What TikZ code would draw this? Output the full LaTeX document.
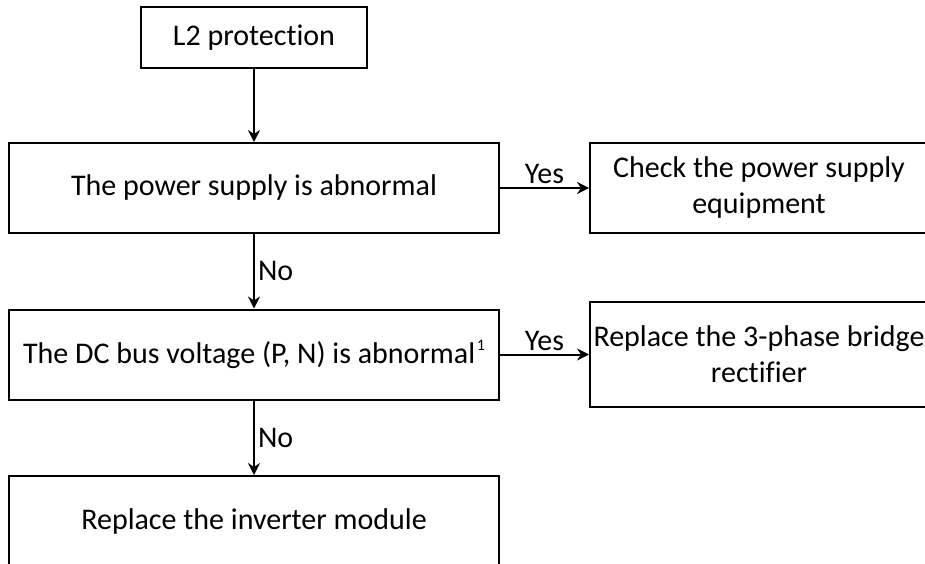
\documentclass[tikz,border=0pt]{standalone}
\usepackage{fontspec}
\setmainfont{Carlito}[Ligatures=NoCommon]
\usepackage{tikz}
\usetikzlibrary{arrows.meta,positioning,calc}

\begin{document}
\begin{tikzpicture}[x=1pt, y=-1pt,
        box/.style={rectangle, draw=black, line width=2pt,
                    minimum width=490pt, minimum height=90pt,
                    align=center, fill=white,
                    font=\fontsize{30}{36}\selectfont},
        sidebox/.style={box, minimum width=338pt},
        arrow/.style={-{Stealth[length=12pt, width=12pt, inset=4pt]},
                      line width=2pt, draw=black},
        lbl/.style={font=\fontsize{30}{36}\selectfont, inner sep=3pt}]

        \useasboundingbox (0,0) rectangle (925,564);

        % start node
        \node[box, minimum width=226pt, minimum height=61pt] (l2) at (254, 37.5)
            {L2 protection};

        % first check
        \node[box] (pwr) at (254, 188) {The power supply is abnormal};
        \node[sidebox] (chk) at (759, 188)
            {Check the power supply\\equipment};

        % second check
        \node[box] (dc) at (254, 354.5)
            {The DC bus voltage (P, N) is
             abnormal\kern1.5pt\raisebox{13pt}{\fontsize{16}{16}\selectfont 1}};
        \node[sidebox, minimum height=105pt] (rect) at (759, 354.5)
            {Replace the 3-phase bridge\\rectifier};

        % last step
        \node[box] (inv) at (254, 521) {Replace the inverter module};

        % connectors
        \draw[arrow] (l2.south) -- (pwr.north);
        \draw[arrow] (pwr.east) -- node[above, lbl] {Yes} (chk.west);
        \draw[arrow] (pwr.south) -- node[right, lbl] {No} (dc.north);
        \draw[arrow] (dc.east) -- node[above, lbl] {Yes} (rect.west);
        \draw[arrow] (dc.south) -- node[right, lbl] {No} (inv.north);

\end{tikzpicture}
\end{document}
